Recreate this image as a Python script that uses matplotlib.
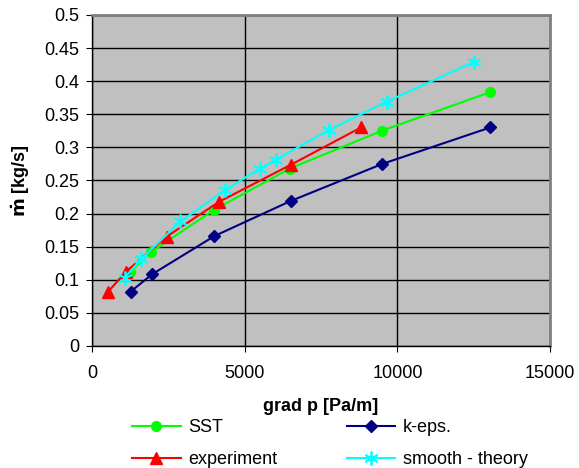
import matplotlib.pyplot as plt
from matplotlib.ticker import MultipleLocator

plt.rcParams['font.family'] = ['Liberation Sans', 'DejaVu Sans']

# mass flow vs pressure gradient
sst_x = [1250, 1940, 3980, 6480, 9490, 13020]
sst_y = [0.112, 0.142, 0.205, 0.268, 0.325, 0.383]

keps_x = [1265, 1960, 4010, 6510, 9510, 13040]
keps_y = [0.082, 0.108, 0.166, 0.219, 0.275, 0.330]

exp_x = [530, 1110, 2440, 4170, 6525, 8810]
exp_y = [0.082, 0.112, 0.165, 0.218, 0.274, 0.330]

theory_x = [1070, 1610, 2890, 4350, 5490, 6010, 7755, 9650, 12505]
theory_y = [0.103, 0.131, 0.188, 0.235, 0.268, 0.281, 0.326, 0.369, 0.429]

fs = 13

fig = plt.figure(figsize=(5.79, 4.68), dpi=100)
ax = fig.add_axes([0.159, 0.261, 0.791, 0.707])
ax.set_facecolor('#c0c0c0')

l1, = ax.plot(sst_x, sst_y, color='#00ff00', marker='o', ms=7, lw=1.5, label='SST')
l2, = ax.plot(keps_x, keps_y, color='#000080', marker='D', ms=6, lw=1.5, label='k-eps.')
l3, = ax.plot(exp_x, exp_y, color='#ff0000', marker='^', ms=9, lw=1.5, label='experiment')
l4, = ax.plot(theory_x, theory_y, color='#00ffff', marker=(6, 2, 0), ms=10, mew=1.3, lw=1.5,
              label='smooth - theory')

ax.set_xlim(0, 15000)
ax.set_ylim(0, 0.5)
ax.xaxis.set_major_locator(MultipleLocator(5000))
ax.yaxis.set_major_locator(MultipleLocator(0.05))
ax.set_yticklabels([f'{v:g}' for v in ax.get_yticks()])
ax.grid(True, color='black', lw=1.0)
ax.set_axisbelow(True)
ax.tick_params(labelsize=fs, direction='out', length=4, color='black')
ax.tick_params(axis='x', pad=10)
ax.tick_params(axis='y', pad=5)

for s in ['top', 'right']:
    ax.spines[s].set_color('#808080')
    ax.spines[s].set_linewidth(2)
for s in ['left', 'bottom']:
    ax.spines[s].set_color('black')
    ax.spines[s].set_linewidth(1)

ax.set_xlabel('grad p [Pa/m]', fontsize=fs, fontweight='bold', labelpad=11)
ax.set_ylabel(r'$\mathbf{\dot{m}}$ [kg/s]', fontsize=fs, fontweight='bold', labelpad=9)

# legend laid out row-wise: SST | k-eps. / experiment | smooth - theory
fig.legend(handles=[l1, l3, l2, l4], loc='lower left', bbox_to_anchor=(0.2, -0.035),
           ncol=2, frameon=False, fontsize=fs, handlelength=2.7, handletextpad=0.4,
           columnspacing=3.85, labelspacing=0.82)

fig.savefig('out.png', dpi=100)
